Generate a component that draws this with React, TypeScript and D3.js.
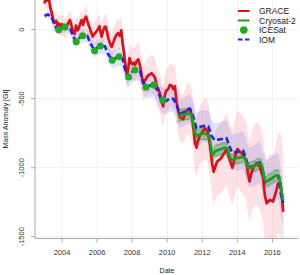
import React from "react";
import * as d3 from "d3";

// [decimal year, mass anomaly (Gt), uncertainty (Gt)]
const graceData: [number, number, number][] = [
  [2003.0, 190, 70], [2003.08, 240, 75], [2003.17, 210, 70], [2003.25, 230, 72], [2003.33, 160, 68],
  [2003.42, 120, 70], [2003.5, 70, 75], [2003.58, 50, 70], [2003.67, 65, 72], [2003.75, 30, 68],
  [2003.83, 45, 70], [2003.92, 20, 72], [2004.0, 40, 70], [2004.08, 25, 72], [2004.17, 10, 74],
  [2004.27, 25, 70], [2004.38, 55, 72], [2004.46, 70, 75], [2004.55, 25, 74], [2004.63, -20, 76],
  [2004.72, -30, 78], [2004.8, 30, 75], [2004.88, -5, 78], [2004.96, 10, 80], [2005.04, 45, 78],
  [2005.12, 70, 80], [2005.2, 35, 82], [2005.28, 75, 80], [2005.37, 95, 84], [2005.45, 60, 82],
  [2005.56, 20, 85], [2005.65, -15, 86], [2005.75, -50, 84], [2005.85, -30, 88], [2005.98, -10, 86],
  [2006.06, 5, 90], [2006.13, 25, 88], [2006.2, -15, 92], [2006.26, -50, 90], [2006.35, -5, 94],
  [2006.43, 20, 92], [2006.5, 20, 96], [2006.58, -25, 95], [2006.66, -70, 98], [2006.75, -105, 100],
  [2006.83, -125, 98], [2006.92, -95, 102], [2007.02, -60, 104], [2007.1, -40, 102], [2007.2, -25, 106],
  [2007.3, -45, 108], [2007.38, -5, 106], [2007.45, -90, 110], [2007.55, -180, 112], [2007.62, -260, 110],
  [2007.7, -330, 114], [2007.78, -280, 116], [2007.85, -205, 114], [2007.92, -235, 118], [2008.0, -250, 120],
  [2008.08, -240, 118], [2008.16, -255, 122], [2008.25, -230, 124], [2008.35, -215, 122], [2008.45, -260, 126],
  [2008.55, -340, 128], [2008.63, -390, 126], [2008.72, -370, 130], [2008.82, -350, 132], [2008.92, -330, 130],
  [2009.01, -325, 134], [2009.1, -315, 136], [2009.2, -330, 138], [2009.3, -345, 140], [2009.4, -410, 142],
  [2009.5, -430, 140], [2009.6, -470, 145], [2009.68, -520, 148], [2009.77, -555, 146], [2009.87, -470, 150],
  [2009.96, -440, 152], [2010.06, -430, 155], [2010.15, -400, 158], [2010.25, -405, 156], [2010.35, -430, 160],
  [2010.44, -410, 165], [2010.53, -520, 168], [2010.63, -590, 170], [2010.72, -635, 172], [2010.82, -640, 175],
  [2010.9, -650, 178], [2011.0, -620, 180], [2011.1, -590, 185], [2011.2, -575, 188], [2011.3, -580, 190],
  [2011.4, -620, 195], [2011.5, -720, 198], [2011.58, -820, 200], [2011.67, -855, 205], [2011.77, -800, 208],
  [2011.86, -765, 210], [2011.95, -750, 215], [2012.05, -735, 218], [2012.15, -715, 222], [2012.25, -725, 225],
  [2012.35, -760, 228], [2012.45, -850, 232], [2012.55, -960, 236], [2012.65, -1030, 240], [2012.75, -990, 245],
  [2012.85, -955, 248], [2012.95, -945, 250], [2013.05, -935, 252], [2013.15, -915, 256], [2013.28, -890, 258],
  [2013.4, -860, 262], [2013.5, -920, 265], [2013.6, -955, 268], [2013.72, -1000, 270], [2013.85, -930, 272],
  [2014.0, -865, 275], [2014.15, -884, 278], [2014.33, -908, 280], [2014.52, -957, 285], [2014.6, -1040, 288],
  [2014.7, -1100, 290], [2014.8, -1040, 292], [2014.93, -993, 295], [2015.09, -968, 300], [2015.28, -993, 305],
  [2015.47, -1077, 310], [2015.57, -1200, 315], [2015.67, -1258, 320], [2015.86, -1234, 330], [2016.04, -1246, 340],
  [2016.23, -1162, 350], [2016.32, -1113, 360], [2016.46, -1113, 370], [2016.55, -1222, 380], [2016.62, -1320, 390],
];

const iomData: [number, number, number][] = [
  [2003.0, 100, 25], [2003.2, 110, 28], [2003.4, 95, 30], [2003.55, 40, 32], [2003.7, 10, 34],
  [2003.85, 0, 35], [2004.0, 10, 36], [2004.2, 20, 38], [2004.45, 15, 40], [2004.6, -40, 42],
  [2004.8, -85, 44], [2005.0, -60, 45], [2005.2, -43, 47], [2005.45, -45, 49], [2005.6, -95, 50],
  [2005.85, -150, 52], [2006.0, -130, 54], [2006.2, -118, 56], [2006.45, -120, 58], [2006.6, -170, 60],
  [2006.87, -220, 62], [2007.05, -205, 64], [2007.25, -195, 66], [2007.45, -210, 68], [2007.6, -290, 70],
  [2007.8, -343, 72], [2008.0, -305, 74], [2008.16, -292, 76], [2008.45, -300, 78], [2008.6, -370, 80],
  [2008.8, -417, 82], [2009.0, -405, 84], [2009.23, -401, 86], [2009.45, -440, 88], [2009.6, -490, 90],
  [2009.75, -512, 92], [2009.9, -520, 94], [2010.15, -497, 96], [2010.35, -500, 98], [2010.53, -546, 100],
  [2010.72, -610, 102], [2010.91, -600, 104], [2011.29, -570, 106], [2011.48, -630, 108], [2011.67, -715, 110],
  [2011.85, -705, 112], [2012.05, -698, 114], [2012.35, -700, 116], [2012.5, -765, 118], [2012.7, -800, 120],
  [2013.0, -795, 124], [2013.38, -785, 128], [2013.57, -850, 130], [2013.7, -890, 132], [2014.0, -885, 136],
  [2014.33, -875, 140], [2014.5, -940, 142], [2014.65, -995, 144], [2014.9, -990, 148], [2015.28, -962, 152],
  [2015.45, -1025, 154], [2015.6, -1105, 156], [2015.75, -1095, 158], [2016.2, -1058, 162], [2016.35, -1062, 164],
  [2016.5, -1200, 166], [2016.62, -1255, 168],
];

const cryosatData: [number, number, number][] = [
  [2010.63, -630, 40], [2010.71, -622, 38], [2010.79, -618, 42], [2010.88, -615, 40], [2010.96, -616, 38],
  [2011.04, -612, 40], [2011.13, -610, 42], [2011.21, -611, 40], [2011.29, -608, 38], [2011.38, -620, 40],
  [2011.46, -655, 42], [2011.54, -720, 40], [2011.63, -762, 38], [2011.71, -770, 40], [2011.79, -762, 42],
  [2011.88, -758, 40], [2011.96, -755, 38], [2012.04, -752, 40], [2012.13, -754, 42], [2012.21, -756, 40],
  [2012.29, -758, 38], [2012.38, -768, 40], [2012.46, -815, 42], [2012.54, -895, 40], [2012.63, -905, 38],
  [2012.71, -885, 40], [2012.79, -878, 42], [2012.88, -874, 40], [2012.96, -870, 38], [2013.04, -866, 40],
  [2013.13, -862, 42], [2013.21, -858, 40], [2013.29, -855, 38], [2013.38, -860, 40], [2013.46, -872, 42],
  [2013.54, -910, 40], [2013.63, -938, 38], [2013.71, -942, 40], [2013.79, -940, 42], [2013.88, -936, 40],
  [2013.96, -932, 38], [2014.04, -930, 40], [2014.13, -927, 42], [2014.21, -924, 40], [2014.29, -922, 38],
  [2014.38, -926, 40], [2014.46, -942, 42], [2014.54, -972, 40], [2014.63, -1002, 38], [2014.71, -1005, 40],
  [2014.79, -1000, 42], [2014.88, -995, 40], [2014.96, -990, 38], [2015.04, -984, 40], [2015.13, -978, 42],
  [2015.21, -972, 40], [2015.29, -974, 38], [2015.38, -982, 40], [2015.46, -1012, 42], [2015.54, -1082, 40],
  [2015.63, -1102, 38], [2015.71, -1097, 40], [2015.79, -1090, 42], [2015.88, -1082, 40], [2015.96, -1077, 38],
  [2016.04, -1070, 40], [2016.13, -1062, 42], [2016.21, -1056, 40], [2016.29, -1055, 38], [2016.38, -1063, 40],
  [2016.46, -1112, 42], [2016.54, -1190, 40], [2016.62, -1232, 42],
];

const icesatData: [number, number][] = [
  [2003.81, 0], [2004.17, 20], [2004.81, -87], [2005.18, -43], [2005.86, -152], [2006.18, -118],
  [2006.87, -222], [2007.25, -196], [2007.8, -343], [2008.16, -292], [2008.79, -417], [2009.23, -401],
  [2009.75, -512],
];

const xTicks = [2004, 2006, 2008, 2010, 2012, 2014, 2016];
const yTicks = [0, -500, -1000, -1500];
const legendLabels = ["GRACE", "Cryosat-2", "ICESat", "IOM"];

const W = 300;
const H = 275;
const FONT = "'Liberation Sans', Arial, Helvetica, sans-serif";

const RED = "#d7141c";
const GREEN = "#1e9e1e";
const DOT = "#22aa22";
const BLUE = "#2424d8";

export default function App() {
  const left = 35;
  const right = 298;
  const top = 0;
  const bottom = 238.5;

  const x = d3.scaleLinear().domain([2004, 2016]).range([62, 272.4]);
  const y = d3.scaleLinear().domain([0, -1500]).range([29.7, 236.7]);

  const bandArea = d3
    .area<[number, number, number]>()
    .x((d) => x(d[0]))
    .y0((d) => y(d[1] - d[2]))
    .y1((d) => y(d[1] + d[2]));
  const line = d3
    .line<[number, number, number]>()
    .x((d) => x(d[0]))
    .y((d) => y(d[1]));

  const legendY = [11, 20.5, 30, 39.5];

  return (
    <svg
      width={W}
      height={H}
      style={{ position: "absolute", left: 0, top: 0, display: "block", background: "#fff" }}
      fontFamily={FONT}
    >
      <defs>
        <clipPath id="plotclip">
          <rect x={left} y={top} width={right - left} height={bottom - top} />
        </clipPath>
      </defs>

      {/* grid */}
      <g stroke="#ececec" strokeWidth={0.8}>
        {xTicks.map((t) => (
          <line key={"gx" + t} x1={x(t)} x2={x(t)} y1={top} y2={bottom} />
        ))}
        {yTicks.map((t) => (
          <line key={"gy" + t} x1={left} x2={right} y1={y(t)} y2={y(t)} />
        ))}
      </g>

      <g clipPath="url(#plotclip)">
        {/* GRACE uncertainty */}
        <path d={bandArea(graceData) || ""} fill="rgb(250,170,180)" fillOpacity={0.35} />
        {/* IOM uncertainty */}
        <path d={bandArea(iomData) || ""} fill="rgb(120,120,230)" fillOpacity={0.22} />
        {/* Cryosat uncertainty */}
        <path d={bandArea(cryosatData) || ""} fill="rgb(150,160,150)" fillOpacity={0.35} />
        <g stroke={GREEN} strokeOpacity={0.45} strokeWidth={0.6}>
          {cryosatData.map((d, i) => (
            <g key={"eb" + i}>
              <line x1={x(d[0])} x2={x(d[0])} y1={y(d[1] - d[2])} y2={y(d[1] + d[2])} />
              <line x1={x(d[0]) - 2} x2={x(d[0]) + 2} y1={y(d[1] - d[2])} y2={y(d[1] - d[2])} />
              <line x1={x(d[0]) - 2} x2={x(d[0]) + 2} y1={y(d[1] + d[2])} y2={y(d[1] + d[2])} />
            </g>
          ))}
        </g>

        <path d={line(graceData) || ""} fill="none" stroke={RED} strokeWidth={2.7} strokeLinejoin="round" />
        <path
          d={line(iomData) || ""}
          fill="none"
          stroke={BLUE}
          strokeWidth={2.6}
          strokeDasharray="6,3"
          strokeLinejoin="round"
        />
        <path d={line(cryosatData) || ""} fill="none" stroke={GREEN} strokeWidth={2.6} strokeLinejoin="round" />
        {icesatData.map((d, i) => (
          <circle key={"ic" + i} cx={x(d[0])} cy={y(d[1])} r={3.5} fill={DOT} />
        ))}
      </g>

      {/* axes */}
      <g stroke="#aaaaaa" strokeWidth={1} fill="none">
        <line x1={left} x2={left} y1={top} y2={bottom} />
        <line x1={left} x2={right} y1={bottom} y2={bottom} />
        {xTicks.map((t) => (
          <line key={"tx" + t} x1={x(t)} x2={x(t)} y1={bottom} y2={bottom + 4} />
        ))}
        {yTicks.map((t) => (
          <line key={"ty" + t} x1={left - 4} x2={left} y1={y(t)} y2={y(t)} />
        ))}
      </g>

      <g fill="#333" fontSize={7.5}>
        {xTicks.map((t) => (
          <text key={"lx" + t} x={x(t)} y={255} textAnchor="middle">
            {t}
          </text>
        ))}
        {yTicks.map((t) => (
          <text
            key={"ly" + t}
            x={24.5}
            y={y(t)}
            textAnchor="middle"
            transform={`rotate(-90, 24.5, ${y(t)})`}
          >
            {t}
          </text>
        ))}
      </g>

      <text x={167} y={273} textAnchor="middle" fontSize={7} fill="#222">
        Date
      </text>
      <text
        x={7.5}
        y={119}
        textAnchor="middle"
        fontSize={7}
        fill="#222"
        transform="rotate(-90, 7.5, 119)"
      >
        Mass Anomaly [Gt]
      </text>

      {/* legend */}
      <g>
        <line x1={238} x2={249.5} y1={legendY[0]} y2={legendY[0]} stroke={RED} strokeWidth={2} />
        <line x1={238} x2={249.5} y1={legendY[1]} y2={legendY[1]} stroke={GREEN} strokeWidth={2} />
        <circle cx={243.8} cy={legendY[2]} r={3.8} fill={DOT} />
        <line
          x1={238}
          x2={249.5}
          y1={legendY[3]}
          y2={legendY[3]}
          stroke={BLUE}
          strokeWidth={2}
          strokeDasharray="4.5,2.5"
        />
        {legendLabels.map((l, i) => (
          <text key={l} x={259} y={legendY[i] + 3} fontSize={8.5} fill="#222">
            {l}
          </text>
        ))}
      </g>
    </svg>
  );
}
